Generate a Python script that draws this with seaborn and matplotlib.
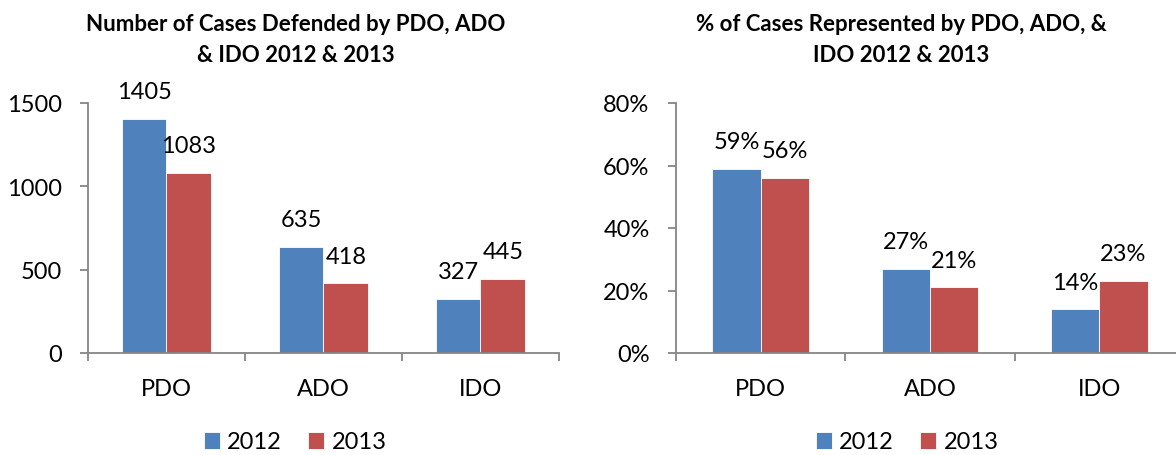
import matplotlib
matplotlib.use("Agg")
import matplotlib.pyplot as plt
import seaborn as sns
import pandas as pd
from matplotlib.ticker import PercentFormatter, FixedLocator

# data
offices = ["PDO", "ADO", "IDO"]
years = ["2012", "2013"]
cases_2012 = [1405, 635, 327]
cases_2013 = [1083, 418, 445]
share_2012 = [0.59, 0.27, 0.14]
share_2013 = [0.56, 0.21, 0.23]

BLUE = "#4F81BD"
RED = "#C0504D"
AXIS = "#868686"

sns.set_theme(style="white")
plt.rcParams["font.family"] = ["Lato", "DejaVu Sans"]
plt.rcParams["text.color"] = "black"
plt.rcParams["xtick.color"] = "black"
plt.rcParams["ytick.color"] = "black"

W, H = 1176, 456
fig = plt.figure(figsize=(W / 100, H / 100), dpi=100)


def long_frame(v12, v13):
    return pd.DataFrame({
        "office": offices * 2,
        "year": [years[0]] * 3 + [years[1]] * 3,
        "value": list(v12) + list(v13),
    })


def style_axis(ax):
    for s in ["top", "right"]:
        ax.spines[s].set_visible(False)
    for s in ["left", "bottom"]:
        ax.spines[s].set_color(AXIS)
        ax.spines[s].set_linewidth(1.3)
    ax.set_xlim(-0.5, 2.5)
    ax.set_xlabel("")
    ax.set_ylabel("")
    ax.tick_params(axis="y", direction="out", length=6, width=1.3, color=AXIS,
                   labelsize=17, pad=13, left=True, labelcolor="black")
    ax.tick_params(axis="x", which="major", length=0, labelsize=17, pad=18,
                   labelcolor="black")
    ax.xaxis.set_minor_locator(FixedLocator([-0.5, 0.5, 1.5, 2.5]))
    ax.tick_params(axis="x", which="minor", direction="out", length=6,
                   width=1.3, color=AXIS, bottom=True)
    ax.grid(False)


def draw(ax, df, ymax, yticks, fmt, legend_x, title, title_x):
    sns.barplot(data=df, x="office", y="value", hue="year",
                palette=[BLUE, RED], width=0.57, ax=ax, saturation=1,
                edgecolor="white", linewidth=0.6)
    ax.set_ylim(0, ymax)
    ax.set_yticks(yticks)
    style_axis(ax)
    for cont in ax.containers:
        ax.bar_label(cont, labels=[fmt(v) for v in cont.datavalues],
                     padding=12, fontsize=17, color="black")
    handles, labels = ax.get_legend_handles_labels()
    ax.legend(handles, labels, loc="center", ncol=2, frameon=False,
              bbox_to_anchor=(legend_x / W, 1 - 443 / H),
              bbox_transform=fig.transFigure, fontsize=17,
              handlelength=0.7, handleheight=0.7, handletextpad=0.3,
              columnspacing=1.1, labelcolor="black")
    fig.text(title_x / W, 1 - 40 / H, title, ha="center", va="center",
             fontsize=16, fontweight="bold", linespacing=1.6, color="black")


ax1 = fig.add_axes([88 / W, 1 - 354 / H, (559 - 88) / W, 250 / H])
draw(ax1, long_frame(cases_2012, cases_2013), 1500, [0, 500, 1000, 1500],
     lambda v: f"{v:.0f}", 295,
     "Number of Cases Defended by PDO, ADO\n& IDO 2012 & 2013", 296)

ax2 = fig.add_axes([676 / W, 1 - 354 / H, (1184 - 676) / W, 250 / H])
draw(ax2, long_frame(share_2012, share_2013), 0.8, [0, 0.2, 0.4, 0.6, 0.8],
     lambda v: f"{v * 100:.0f}%", 907,
     "% of Cases Represented by PDO, ADO, &\nIDO 2012 & 2013", 901)
ax2.yaxis.set_major_formatter(PercentFormatter(1, decimals=0))

fig.savefig("out.png", dpi=100)
